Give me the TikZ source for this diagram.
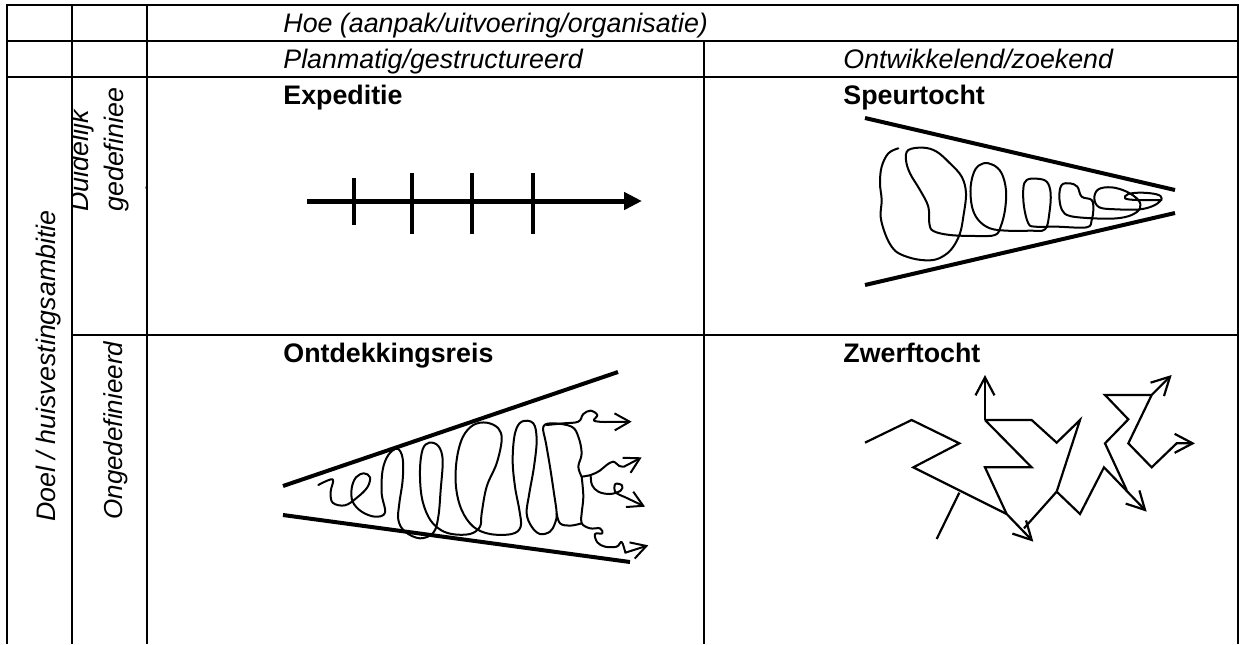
\documentclass[tikz,border=0pt]{standalone}
\usepackage{fontspec}
\setmainfont{Liberation Sans}
\usetikzlibrary{arrows.meta}
\begin{document}
\begin{tikzpicture}[x=0.5pt,y=-0.5pt,
  grid/.style={line width=1pt},
  lbl/.style={inner sep=0pt, anchor=base west, font=\fontsize{13.4}{16}\selectfont\itshape},
  ttl/.style={inner sep=0pt, anchor=base west, font=\fontsize{13.4}{16}\selectfont\bfseries},
  vlbl/.style={inner sep=0pt, anchor=base west, rotate=90, font=\fontsize{13.4}{16}\selectfont\itshape},
  bound/.style={line width=2pt},
  scrib/.style={line width=1pt, line join=round, line cap=round},
  obarb/.style={-{Straight Barb[length=7.5pt,width=8.5pt]}},
  zig/.style={line width=1.1pt},
  zbarb/.style={-{Straight Barb[length=9pt,width=9.5pt]}},
]
\useasboundingbox (0,0) rectangle (1239,644);
\fill[white] (0,0) rectangle (1239,644);

% ---- table grid ----
\draw[grid] (7,644) -- (7,5) -- (1237.5,5) -- (1237.5,644);
\draw[grid] (7,41) -- (1237.5,41);
\draw[grid] (7,77) -- (1237.5,77);
\draw[grid] (72,335) -- (1237.5,335);
\draw[grid] (72,5) -- (72,644);
\draw[grid] (147,5) -- (147,644);
\draw[grid] (704,41) -- (704,644);

% ---- header texts ----
\node[lbl] (hoe) at (283,32) {Hoe (aanpak/uitvoering/organisatie)};
\node[lbl] (plan) at (283,68) {Planmatig/gestructureerd};
\node[lbl] (ontw) at (843,68) {Ontwikkelend/zoekend};
\node[ttl] (exp) at (283,104) {Expeditie};
\node[ttl] (speur) at (843,104) {Speurtocht};
\node[ttl] (ontd) at (283,362) {Ontdekkingsreis};
\node[ttl] (zwerf) at (843,362) {Zwerftocht};

% ---- rotated texts ----
\node[vlbl] (doel) at (55,522) {Doel / huisvestingsambitie};
\node[vlbl, font=\fontsize{13}{16}\selectfont\itshape] (onged) at (122,520) {Ongedefinieerd};
\begin{scope}
  \clip (72,77) rectangle (147,335);
  \node[vlbl] (duid) at (89,212) {Duidelijk};
  \node[vlbl] (gedef) at (123,212) {gedefiniee};
  \node[vlbl] (rdx) at (165,212) {rd};
\end{scope}

% ---- Expeditie ----
\coordinate (ea) at (307,201);
\coordinate (eb) at (642,201);
\draw[line width=2.5pt, -{Triangle[length=9pt,width=8.5pt]}] (ea) -- (eb);
\draw[line width=2pt] (354,178) -- (354,225);
\draw[line width=2pt] (412,173) -- (412,234);
\draw[line width=2pt] (472,173) -- (472,234);
\draw[line width=2pt] (533,173) -- (533,234);

% ---- Speurtocht ----
\draw[bound] (865,118) -- (1175,190);
\draw[bound] (865,285) -- (1175,213);
\begin{scope}[shift={(830,100)}, scale=1/3]
\draw[scrib] plot[smooth, tension=0.6] coordinates {
(205,145) (175,160) (155,200) (150,250) (155,300) (152,350) (165,400) (185,440)
(210,462) (260,478) (310,480) (345,465) (370,440) (390,400) (400,350) (408,280)
(395,230) (360,190) (320,155) (280,143) (235,150) (228,180) (240,220) (270,270)
(295,320) (298,370) (310,393) (360,405) (440,408) (495,405) (512,380) (525,330)
(528,270) (515,220) (490,195) (460,190) (435,210) (422,260) (426,320) (445,360)
(480,385) (530,392) (600,392) (645,388) (658,340) (662,280) (650,245) (620,236)
(590,240) (580,265) (582,320) (595,370) (615,380) (680,380) (770,382) (785,360)
(790,330) (785,300) (755,290) (742,260) (720,250) (695,255) (688,290) (696,330)
(720,348) (790,355) (860,355) (905,345) (930,325) (925,300) (890,275) (845,262)
(805,268) (793,295) (808,322) (860,328) (930,328) (975,315) (995,295) (980,283)
(935,278) (895,282) (885,295) (920,300) (995,300)};
\end{scope}

% ---- Ontdekkingsreis ----
\draw[bound] (283,486) -- (618,372);
\draw[bound] (283,515) -- (630,562);
\begin{scope}[shift={(270,360)}, scale=1/3]
\draw[scrib] plot[smooth, tension=0.6] coordinates {
(145,375) (188,358) (182,395) (188,428) (225,436) (262,412) (292,382) (300,352)
(282,340) (258,352) (245,385) (248,425) (275,455) (315,470) (345,458) (335,400)
(338,330) (355,285) (382,266) (398,295) (398,360) (388,430) (385,480) (405,515)
(450,535) (490,518) (505,470) (512,390) (518,300) (505,258) (478,248) (458,268)
(450,330) (455,410) (475,470) (505,505) (545,522) (600,522) (630,500) (635,460)
(650,380) (680,310) (695,240) (685,205) (650,188) (610,195) (578,232) (560,300)
(558,380) (575,450) (610,500) (660,522) (725,522) (752,500) (748,450) (735,380)
(728,300) (735,220) (755,185) (790,190) (800,240) (792,320) (778,400) (770,460)
(785,500) (810,522) (840,515) (855,490) (860,460) (852,400) (840,320) (828,250)
(820,200) (850,190) (905,200) (925,230) (935,280) (925,320) (935,350)};
\draw[scrib] plot[smooth, tension=0.6] coordinates {
(860,460) (870,490) (900,497) (935,490)};
\draw[scrib, obarb] plot[smooth, tension=0.6] coordinates {
(830,195) (880,190) (925,185) (940,162) (962,152) (982,165) (972,182) (1005,186)}
 -- (1085,185);
\draw[scrib, obarb] plot[smooth, tension=0.6] coordinates {
(935,350) (962,345) (988,333) (1010,315) (1030,305) (1048,318) (1062,320)}
 -- (1115,292);
\draw[scrib, obarb] plot[smooth, tension=0.6] coordinates {
(962,345) (966,375) (985,395) (1020,402) (1052,392) (1056,376) (1036,372) (1036,396) (1062,410)}
 -- (1125,440);
\draw[scrib, obarb] plot[smooth, tension=0.6] coordinates {
(935,350) (940,410) (935,460) (935,490) (960,505) (990,505) (997,520) (975,522)
(982,547) (1005,560) (1040,560) (1055,546) (1066,578)} -- (1135,556);
\end{scope}

% ---- Zwerftocht ----
\begin{scope}[shift={(850,360)}, scale=1/3]
\draw[zig] (45,248) -- (185,180) -- (328,250) -- (190,322) -- (470,462);
\draw[zig] (328,398) -- (260,537);
\draw[zig, zbarb] (405,180) -- (405,45);
\draw[zig] (405,180) -- (545,180) -- (620,248) -- (690,180) -- (620,395);
\draw[zig, zbarb] (405,180) -- (545,322) -- (405,322) -- (470,462) -- (550,545);
\draw[zig] (620,395) -- (522,505);
\draw[zig, zbarb] (620,395) -- (690,462) -- (762,322) -- (890,455);
\draw[zig] (905,105) -- (765,105) -- (835,178) -- (765,250) -- (830,390);
\draw[zig, zbarb] (905,105) -- (965,45);
\draw[zig, zbarb] (905,105) -- (835,250) -- (905,322) -- (980,250) -- (1035,250);
\end{scope}
\end{tikzpicture}
\end{document}
